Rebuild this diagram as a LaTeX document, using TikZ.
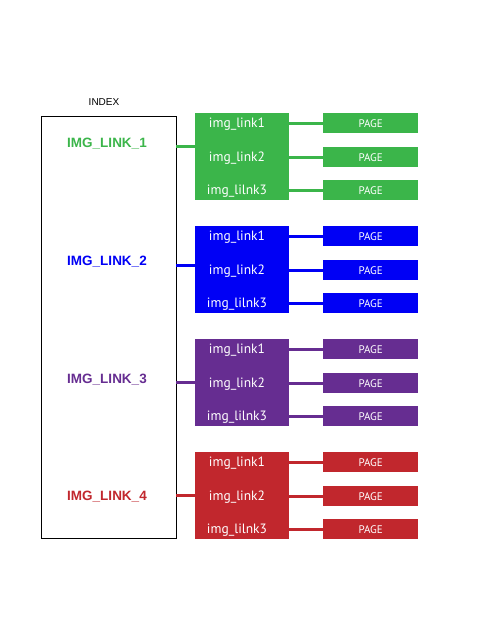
\documentclass[tikz,border=0pt]{standalone}
\usepackage{fontspec}
\setmainfont{Liberation Sans}
\newfontfamily\myriad{PT Sans}
\definecolor{cgreen}{HTML}{3BB54A}
\definecolor{cblue}{HTML}{0000F5}
\definecolor{cpurple}{HTML}{662D91}
\definecolor{cred}{HTML}{C1272D}
\begin{document}
\begin{tikzpicture}[x=1pt,y=-1pt,
  bigbox/.style={draw=none, minimum width=94pt, minimum height=87pt, anchor=north west, inner sep=0pt},
  pagebox/.style={draw=none, minimum width=95pt, minimum height=20pt, anchor=north west, inner sep=0pt, text=white, font=\myriad\fontsize{11}{13}\selectfont},
  itemtxt/.style={text=white, font=\myriad\fontsize{13.5}{15}\selectfont},
  linktxt/.style={font=\bfseries\fontsize{13.5}{16}\selectfont},
  conn/.style={line width=3pt}]
\useasboundingbox (0,0) rectangle (480,640);
\node[font=\fontsize{10}{12}\selectfont] (idx) at (104,102) {INDEX};
\node[draw=black, line width=0.8pt, minimum width=135pt, minimum height=422pt, anchor=north west, inner sep=0pt] (index) at (41,116) {};
\foreach \i/\col/\lab/\cy/\ly in {0/cgreen/IMG\_LINK\_1/146/144, 1/cblue/IMG\_LINK\_2/265/262, 2/cpurple/IMG\_LINK\_3/382/380, 3/cred/IMG\_LINK\_4/495/497}{
  \pgfmathsetmacro{\off}{113*\i}
  \node[linktxt, text=\col] (lab\i) at (107,\ly) {\lab};
  \node[bigbox, fill=\col] (big\i) at (195,{113+\off}) {};
  \coordinate (c\i) at (176,\cy);
  \draw[conn, draw=\col] (c\i) -- (c\i -| big\i.west);
  \foreach \j/\txt/\py in {0/img\_link1/0, 1/img\_link2/34, 2/img\_lilnk3/67}{
    \node[itemtxt] (t\i\j) at (237,{124+\off+\py}) {\txt};
    \node[pagebox, fill=\col] (p\i\j) at (323,{113+\off+\py}) {PAGE};
    \draw[conn, draw=\col] (p\i\j.west -| big\i.east) -- (p\i\j.west);
  }
}
\end{tikzpicture}
\end{document}
